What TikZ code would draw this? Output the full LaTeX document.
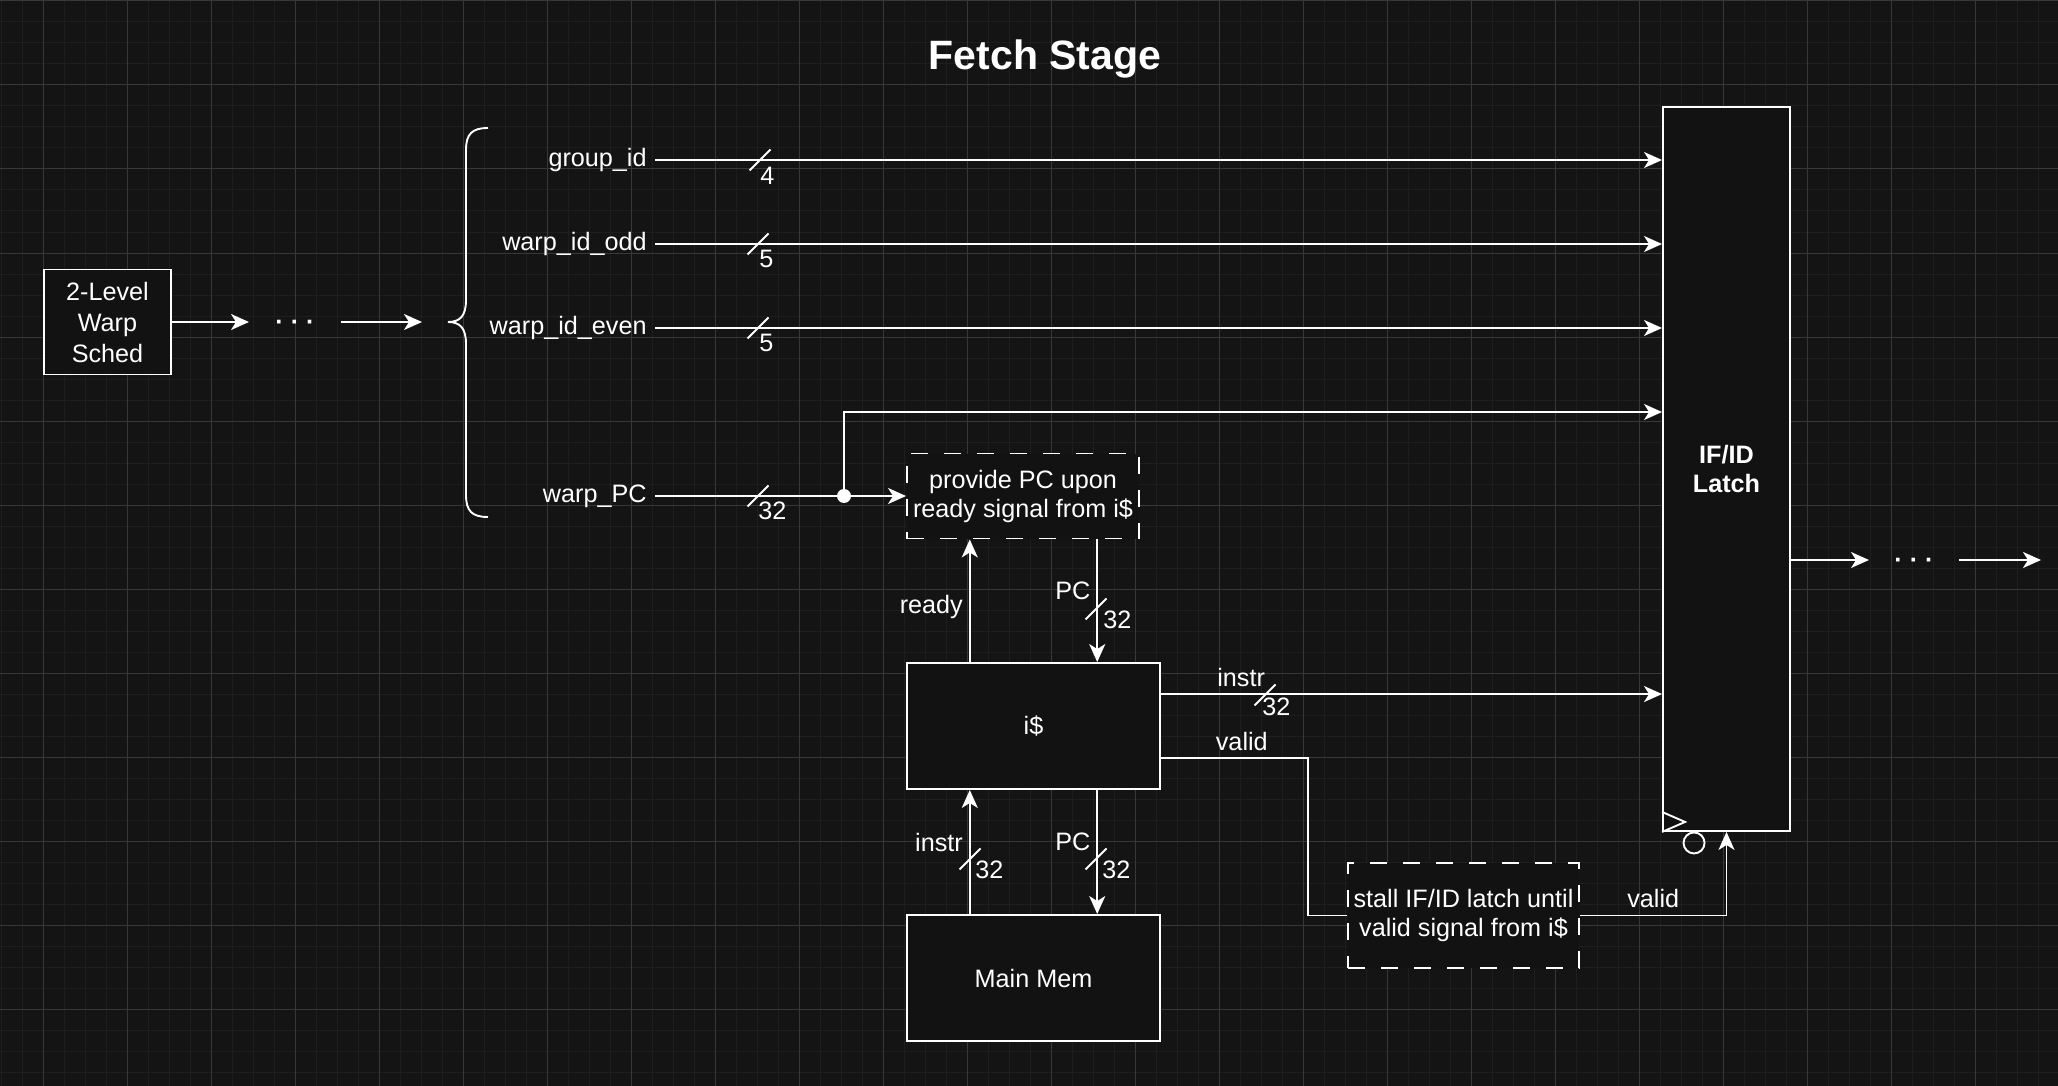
\documentclass[tikz,border=0pt]{standalone}
\usepackage{fontspec}
\setmainfont{Liberation Sans}
\usetikzlibrary{arrows.meta,calc}
\definecolor{bgc}{HTML}{141414}
\definecolor{boxc}{HTML}{121212}
\definecolor{gminor}{HTML}{1E1E1E}
\definecolor{gmajor}{HTML}{383838}
\newcommand\diagfont{\fontsize{12.6pt}{14.5pt}\selectfont}
\tikzset{busmark/.pic={\draw[line width=.9pt] (-5.25pt,-5.25pt) -- (5.25pt,5.25pt);}}
\begin{document}
\begin{tikzpicture}[x=0.5pt, y=-0.5pt, color=white, font=\diagfont,
  >={Stealth[length=9pt,width=8pt,inset=2.5pt]},
  wire/.style={line width=.95pt},
  blk/.style={draw, fill=boxc, line width=.95pt, align=center, inner sep=2pt},
  dbox/.style={blk, dash pattern=on 8.5pt off 8pt},
  sig/.style={anchor=east, inner sep=4pt},
  bw/.style={anchor=west, inner sep=0pt},
  lbl/.style={inner sep=3pt}]
  \useasboundingbox (0,0) rectangle (2058,1086);
  \fill[bgc] (0,0) rectangle (2058,1086);
  \foreach \g in {1,22,...,2058} \draw[gminor, line width=.5pt] (\g,0) -- (\g,1086);
  \foreach \g in {1,22,...,1086} \draw[gminor, line width=.5pt] (0,\g) -- (2058,\g);
  \foreach \g in {43,127,...,2058} \draw[gmajor, line width=.5pt] (\g,0) -- (\g,1086);
  \foreach \g in {1,85,...,1086} \draw[gmajor, line width=.5pt] (0,\g) -- (2058,\g);

  \node[font=\bfseries\fontsize{20.5pt}{24pt}\selectfont] (title) at (1045,59) {Fetch Stage};

  \node[blk, minimum width=63.5pt, minimum height=52.5pt, font=\fontsize{12.6pt}{15.5pt}\selectfont] (sched) at (107.5,322) {2-Level\\Warp\\Sched};
  \node[blk, font=\diagfont\bfseries, minimum width=63.5pt, minimum height=362pt] (latch) at (1726.5,469) {IF/ID\\Latch};
  \node[dbox, minimum width=116pt, minimum height=42.5pt] (prov) at (1023,496) {provide PC upon\\ready signal from i\$};
  \node[blk, minimum width=126.5pt, minimum height=63pt] (icache) at (1033.5,726) {i\$};
  \node[blk, minimum width=126.5pt, minimum height=63pt] (mem) at (1033.5,978) {Main Mem};
  \node[dbox, minimum width=115.5pt, minimum height=52.5pt] (stall) at (1463.5,915.5) {stall IF/ID latch until\\valid signal from i\$};

  \node (dotsL) [inner sep=13pt, font=\diagfont\bfseries] at (295,325) {· · ·};
  \node (dotsR) [inner sep=12.5pt, font=\diagfont\bfseries] at (1914,563) {· · ·};
  \coordinate (bin) at (422,322);
  \coordinate (fout) at (2041,560);
  \draw[wire,->] (sched) -- (sched -| dotsL.west);
  \draw[wire,->] (sched -| dotsL.east) -- (bin);
  \draw[wire,->] (latch.east |- fout) -- (fout -| dotsR.west);
  \draw[wire,->] (fout -| dotsR.east) -- (fout);
  \draw[wire] (488,128) .. controls (472,128) and (466,134) .. (466,150) -- (466,300)
    .. controls (466,316) and (460,322) .. (448,322) .. controls (460,322) and (466,328) .. (466,344)
    -- (466,495) .. controls (466,511) and (472,517) .. (488,517);

  \node[sig] (lgrp) at (655,160) {group\_id};
  \node[sig] (lodd) at (655,244) {warp\_id\_odd};
  \node[sig] (leven) at (655,328) {warp\_id\_even};
  \node[sig] (lpc) at (655,496) {warp\_PC};
  \node[circle, fill, inner sep=0pt, minimum size=7pt] (jn) at (844,496) {};
  \foreach \s in {lgrp,lodd,leven} \draw[wire,->] (\s) -- (\s -| latch.west);
  \draw[wire] (lpc) -- (jn);
  \draw[wire,->] (jn) -- (prov);
  \draw[wire,->] (jn.center) -- ++(0,-84) coordinate (tap) -- (tap -| latch.west);

  \coordinate (rdy) at ($(icache.north west)!.25!(icache.north east)$);
  \coordinate (pcd) at ($(icache.north west)!.75!(icache.north east)$);
  \coordinate (iout) at ($(icache.north east)!.25!(icache.south east)$);
  \coordinate (vout) at ($(icache.north east)!.75!(icache.south east)$);
  \coordinate (mrd) at ($(mem.north west)!.25!(mem.north east)$);
  \coordinate (mpc) at ($(mem.north west)!.75!(mem.north east)$);
  \draw[wire,->] (rdy) -- node[lbl, pos=.45, anchor=east]{ready} (rdy |- prov.south);
  \draw[wire,->] (pcd |- prov.south) -- node[lbl, pos=.42, anchor=east]{PC} (pcd);
  \draw[wire,->] (iout) -- node[pos=.16, above]{instr} (iout -| latch.west);
  \draw[wire] (vout) -- node[pos=.55, above]{valid} ++(147,0) |- (stall);
  \draw[wire,->] (stall) -| node[pos=.25, above]{valid} (latch.south);
  \draw[wire,->] (mrd) -- node[lbl, pos=.58, anchor=east]{instr} (mrd |- icache.south);
  \draw[wire,->] (mpc |- icache.south) -- node[lbl, pos=.42, anchor=east]{PC} (mpc);

  \foreach \x/\y in {760/160, 758/244, 758/328, 758/496, 1096/609, 1265/695, 970/859, 1096/859} \pic at (\x,\y) {busmark};
  \node[bw] (w1) at (760,176) {4};
  \node[bw] (w2) at (759,259) {5};
  \node[bw] (w3) at (759,343) {5};
  \node[bw] (w4) at (758,511) {32};
  \node[bw] (w5) at (1103,620) {32};
  \node[bw] (w6) at (1262,707) {32};
  \node[bw] (w7) at (975,870) {32};
  \node[bw] (w8) at (1102,870) {32};

  \draw[wire] ([yshift=10pt]latch.south west) -- ++(23,10) -- (latch.south west);
  \draw[wire] (latch.south west) ++(32,11) circle[radius=5.25pt];
\end{tikzpicture}
\end{document}
